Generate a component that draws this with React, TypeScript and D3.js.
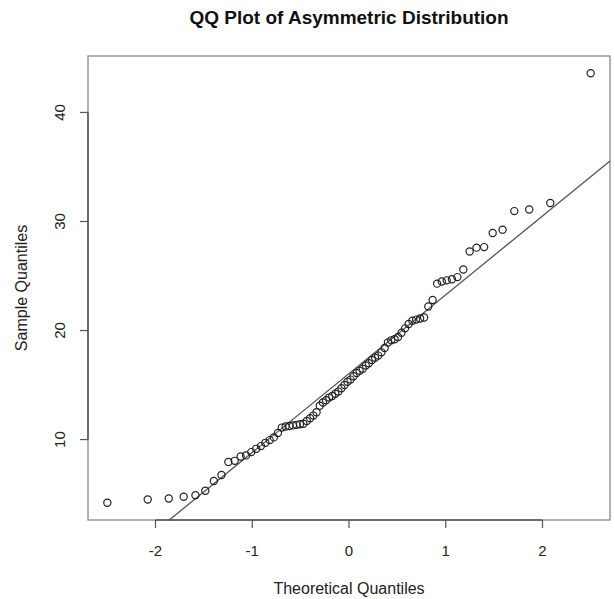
import React from "react";
import * as d3 from "d3";

// Sorted sample values (n = 80), plotted against normal theoretical quantiles
const sampleValues: number[] = [
  4.2, 4.5, 4.6, 4.75, 4.9, 5.3, 6.2, 6.75, 7.95, 8.05,
  8.45, 8.55, 8.85, 9.15, 9.4, 9.7, 9.95, 10.2, 10.6, 11.1,
  11.2, 11.25, 11.3, 11.35, 11.4, 11.45, 11.7, 11.95, 12.2, 12.5,
  13.1, 13.4, 13.6, 13.85, 14.0, 14.2, 14.4, 14.7, 15.0, 15.3,
  15.5, 15.8, 16.1, 16.3, 16.5, 16.8, 17.0, 17.3, 17.5, 17.7,
  18.0, 18.4, 18.9, 19.1, 19.2, 19.4, 19.8, 20.2, 20.6, 20.9,
  21.0, 21.1, 21.2, 22.2, 22.8, 24.3, 24.5, 24.6, 24.7, 24.9,
  25.6, 27.25, 27.6, 27.65, 28.95, 29.25, 30.95, 31.1, 31.7, 43.6,
];

const xTicks: number[] = [-2, -1, 0, 1, 2];
const yTicks: number[] = [10, 20, 30, 40];

const title = "QQ Plot of Asymmetric Distribution";
const xLabel = "Theoretical Quantiles";
const yLabel = "Sample Quantiles";

const W = 615;
const H = 599;
const plot = { left: 88, right: 610, top: 56, bottom: 520 };
const font = "'Liberation Sans', Arial, Helvetica, sans-serif";

// Inverse normal CDF (Acklam's rational approximation)
function qnorm(p: number): number {
  const a = [-39.69683028665376, 220.9460984245205, -275.9285104469687, 138.357751867269, -30.66479806614716, 2.506628277459239];
  const b = [-54.47609879822406, 161.5858368580409, -155.6989798598866, 66.80131188771972, -13.28068155288572];
  const c = [-0.007784894002430293, -0.3223964580411365, -2.400758277161838, -2.549732539343734, 4.374664141464968, 2.938163982698783];
  const d = [0.007784695709041462, 0.3224671290700398, 2.445134137142996, 3.754408661907416];
  const pl = 0.02425;
  if (p < pl) {
    const q = Math.sqrt(-2 * Math.log(p));
    return (((((c[0] * q + c[1]) * q + c[2]) * q + c[3]) * q + c[4]) * q + c[5]) /
      ((((d[0] * q + d[1]) * q + d[2]) * q + d[3]) * q + 1);
  }
  if (p > 1 - pl) {
    return -qnorm(1 - p);
  }
  const q = p - 0.5;
  const r = q * q;
  return (((((a[0] * r + a[1]) * r + a[2]) * r + a[3]) * r + a[4]) * r + a[5]) * q /
    (((((b[0] * r + b[1]) * r + b[2]) * r + b[3]) * r + b[4]) * r + 1);
}

export default function App() {
  const n = sampleValues.length;
  const theo = sampleValues.map((_, i) => qnorm((i + 1 - 0.5) / n));
  const pts = sampleValues.map((v, i) => ({ x: theo[i], y: v }));

  const pad = (lo: number, hi: number) => {
    const r = hi - lo;
    return [lo - 0.04 * r, hi + 0.04 * r];
  };
  const xExt = d3.extent(theo) as [number, number];
  const yExt = d3.extent(sampleValues) as [number, number];

  const x = d3.scaleLinear().domain(pad(xExt[0], xExt[1])).range([plot.left, plot.right]);
  const y = d3.scaleLinear().domain(pad(yExt[0], yExt[1])).range([plot.bottom, plot.top]);

  // Reference line through the first and third quartiles
  const sorted = [...sampleValues].sort((a, b) => a - b);
  const q1 = d3.quantile(sorted, 0.25) as number;
  const q3 = d3.quantile(sorted, 0.75) as number;
  const z1 = qnorm(0.25);
  const z3 = qnorm(0.75);
  const slope = (q3 - q1) / (z3 - z1);
  const intercept = q1 - slope * z1;
  const [dx0, dx1] = x.domain();
  const lineFn = (t: number) => intercept + slope * t;
  // clip the reference line to the plotting region
  const yMin = y.domain()[0];
  const xStart = Math.max(dx0, (yMin - intercept) / slope);
  const lx0 = x(xStart);
  const ly0 = y(lineFn(xStart));
  const lx1 = x(dx1);
  const ly1 = y(lineFn(dx1));

  const boxColor = "#9a9a9a";
  const axisColor = "#555";
  const tickLen = 8;

  return (
    <svg width={W} height={H} style={{ display: "block", position: "absolute", left: 0, top: 0 }}>
      <rect x={0} y={0} width={W} height={H} fill="#fff" />
      <text x={349} y={24} textAnchor="middle" fontFamily={font}
        fontWeight="bold" fontSize={19} fill="#111">{title}</text>

      <rect x={plot.left} y={plot.top} width={plot.right - plot.left} height={plot.bottom - plot.top}
        fill="none" stroke={boxColor} strokeWidth={1.5} />

      {/* x axis */}
      <line x1={x(xTicks[0])} x2={x(xTicks[xTicks.length - 1])} y1={plot.bottom} y2={plot.bottom}
        stroke={axisColor} strokeWidth={1.5} />
      {xTicks.map((t) => (
        <g key={"xt" + t}>
          <line x1={x(t)} x2={x(t)} y1={plot.bottom} y2={plot.bottom + tickLen} stroke={axisColor} strokeWidth={1.2} />
          <text x={x(t)} y={556} textAnchor="middle" fontFamily={font} fontSize={15} fill="#222">{t}</text>
        </g>
      ))}

      {/* y axis */}
      <line x1={plot.left} x2={plot.left} y1={y(yTicks[0])} y2={y(yTicks[yTicks.length - 1])}
        stroke={axisColor} strokeWidth={1.5} />
      {yTicks.map((t) => (
        <g key={"yt" + t}>
          <line x1={plot.left - tickLen} x2={plot.left} y1={y(t)} y2={y(t)} stroke={axisColor} strokeWidth={1.2} />
          <text transform={`translate(65, ${y(t)}) rotate(-90)`} textAnchor="middle" fontFamily={font}
            fontSize={15} fill="#222">{t}</text>
        </g>
      ))}

      <text x={349} y={594} textAnchor="middle" fontFamily={font} fontSize={16} fill="#222">{xLabel}</text>
      <text transform={`translate(27, ${(plot.top + plot.bottom) / 2}) rotate(-90)`} textAnchor="middle"
        fontFamily={font} fontSize={16} fill="#222">{yLabel}</text>

      <line x1={lx0} y1={ly0} x2={lx1} y2={ly1} stroke="#555" strokeWidth={1.3} />

      {pts.map((p, i) => (
        <circle key={i} cx={x(p.x)} cy={y(p.y)} r={3.6} fill="none" stroke="#222" strokeWidth={1.2} />
      ))}
    </svg>
  );
}
